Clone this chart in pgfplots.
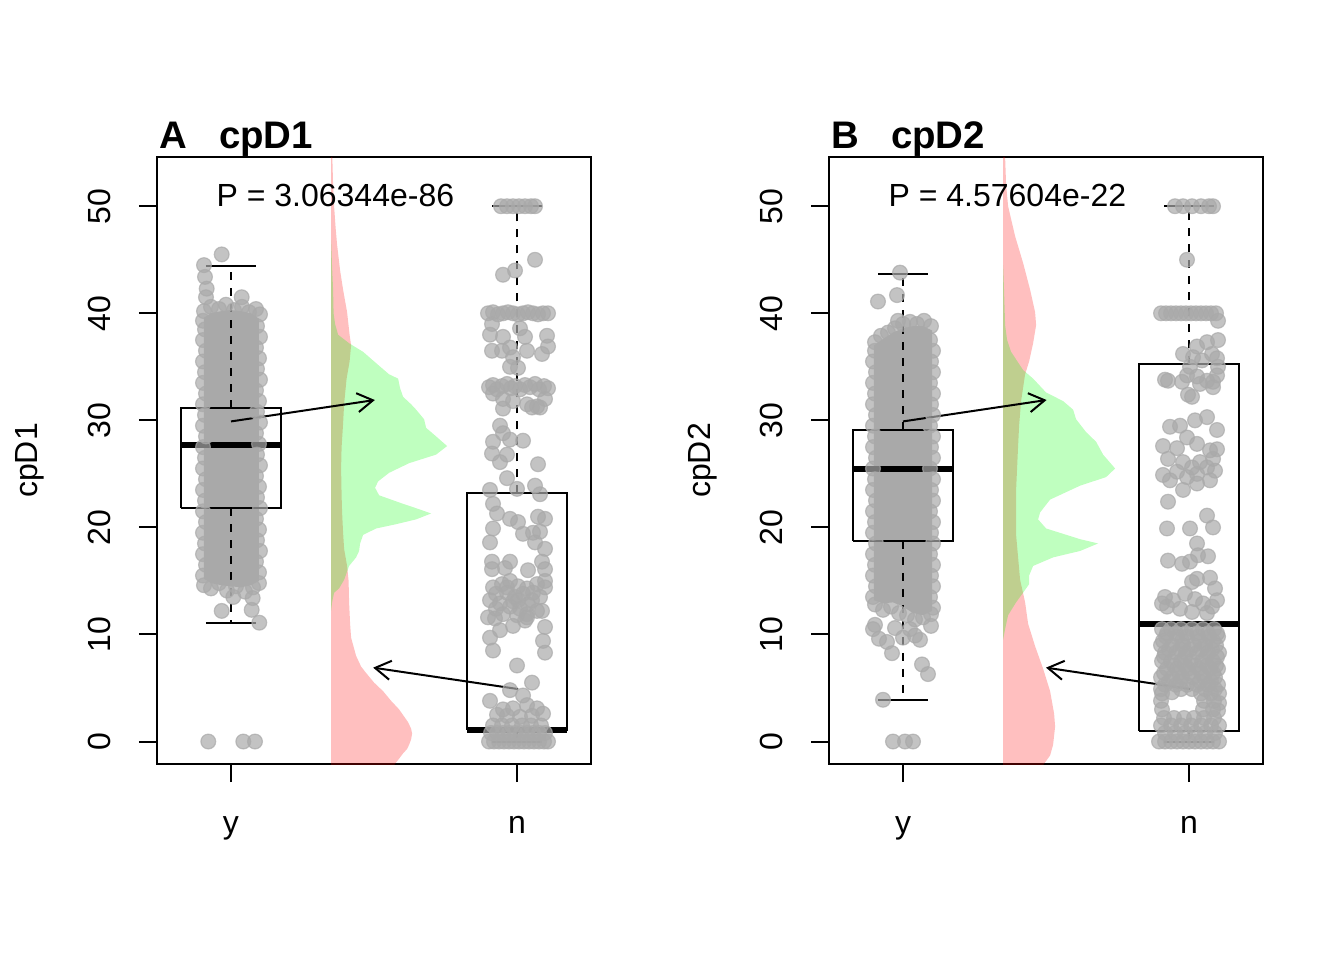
\documentclass[border=0pt]{standalone}
\usepackage{fontspec}
\setmainfont{Liberation Sans}
\usepackage{pgfplots}
\pgfplotsset{compat=1.18}
\usetikzlibrary{arrows.meta}
\definecolor{ptgrey}{RGB}{169,169,169}
\pgfplotsset{
  panel/.style={
    anchor=south west,
    width=217pt, height=303.5pt, scale only axis,
    xmin=0.7413, xmax=2.2587, ymin=-2.1, ymax=54.6,
    xtick={1,2}, xticklabels={y,n},
    ytick={0,10,20,30,40,50},
    xtick pos=left, ytick pos=left,
    tick align=outside, major tick length=9pt,
    axis line style={line width=1pt},
    tick style={line width=1pt, black},
    tick label style={font=\fontsize{16}{19}\selectfont, inner sep=0pt},
    yticklabel style={rotate=90, anchor=base},
    xticklabel style={anchor=base},
    yticklabel shift=14.25pt,
    xticklabel shift=25.5pt,
    /pgf/number format/assume math mode=true,
    every axis title/.style={at={(0,1)}, anchor=base west, inner sep=0pt, xshift=1pt, yshift=4pt, font=\fontsize{19.2}{23}\selectfont\bfseries},
    every axis y label/.style={at={(-0.2742,0.5)}, rotate=90, anchor=base, inner sep=0pt, font=\fontsize{16}{19}\selectfont},
  },
  pts/.style={only marks, mark=*, mark size=3.7pt,
    mark options={draw=ptgrey, fill=ptgrey, fill opacity=0.7, draw opacity=0.7, line width=0.6pt}},
  box/.style={black, line width=1pt, line join=miter, mark=none},
  whisk/.style={black, line width=1pt, dash pattern=on 4pt off 4pt, mark=none},
  arr/.style={black, line width=1pt, mark=none, -{Straight Barb[length=7.8pt, width=9.5pt]}},
}
\begin{document}
\begin{tikzpicture}
\path[use as bounding box] (0pt,0pt) rectangle (672pt,480pt);
% ================= Panel A =================
\begin{axis}[panel, at={(78.5pt,98pt)}, title={A\hspace{0.834em}cpD1}, ylabel={cpD1}]
% dense cloud of group y
\addplot[fill=ptgrey, draw=none, mark=none] table[x expr=1+\thisrow{dx}/286, y=v, row sep=\\] {
dx v\\ -27 15.2\\ -27 39.6\\ -20 40.0\\ -10 40.2\\ 0 40.3\\ 10 40.2\\ 20 40.0\\ 28 39.5\\ 28 15.0\\ 20 14.6\\ 10 14.4\\ 0 14.5\\ -10 14.6\\ -20 14.8\\
};
\addplot[pts] table[x expr=1+\thisrow{dx}/286, y=v, row sep=\\] {
dx v\\
-9.3 45.5\\ -27 44.5\\ -26 43.4\\ -24.3 42.3\\ -25 41.5\\ 10.7 41.5\\
-9.3 12.2\\ 20.7 12.3\\ 28.3 11.1\\ 21.7 13.4\\ 2.3 13.5\\ -22.7 0\\ 12.3 0\\ 24 0\\
-27 40.2\\ -20 40.6\\ -12 40.4\\ -5 40.8\\ 3 40.3\\ 11 40.6\\ 18 40.1\\ 25 40.4\\ 29 39.9\\
-27 14.6\\ -20 14.3\\ -12 14.8\\ -4 14.1\\ 5 14.5\\ 14 14.0\\ 22 14.4\\ 28 14.8\\
-28 15.5\\ -25 16.5\\ -28 17.5\\ -26 18.5\\ -28 19.5\\ -25 20.5\\ -28 21.5\\ -26 22.5\\ -28 23.5\\ -25 24.5\\ -28 25.5\\ -26 26.5\\ -28 27.5\\ -25 28.5\\ -28 29.5\\ -26 30.5\\ -28 31.5\\ -25 32.5\\ -28 33.5\\ -26 34.5\\ -28 35.5\\ -25 36.5\\ -28 37.5\\ -26 38.5\\ -28 39.3\\
28 15.8\\ 25 16.8\\ 29 17.8\\ 26 18.8\\ 28 19.8\\ 25 20.8\\ 29 21.8\\ 26 22.8\\ 28 23.8\\ 25 24.8\\ 29 25.8\\ 26 26.8\\ 28 27.8\\ 25 28.8\\ 29 29.8\\ 26 30.8\\ 28 31.8\\ 25 32.8\\ 29 33.8\\ 26 34.8\\ 28 35.8\\ 25 36.8\\ 29 37.8\\ 26 38.8\\
};
% group n
\addplot[pts] table[x expr=2+\thisrow{dx}/286, y=v, row sep=\\] {
dx v\\
-16 50\\ -10 50\\ -4 50\\ 2 50\\ 8 50\\ 14 50\\ 18 50\\
18 45.0\\ -2 44.0\\ -14 43.6\\
-29 40\\ -24 40.1\\ -19 39.9\\ -14 40\\ -9 40.1\\ -4 40\\ 1 39.9\\ 6 40\\ 11 40.1\\ 16 40\\ 21 39.9\\ 26 40\\ 31 40\\
-25 39.0\\ -27 38.0\\ -14 37.8\\ 3 38.6\\ 8 37.8\\ 30 37.9\\ 31 36.9\\ 25 36.2\\ -25 36.5\\ -15 36.5\\ -7 36.8\\ 10 36.5\\ -4 35.9\\ -7 35.0\\ 1 34.9\\
-28 33.1\\ -24 33.3\\ -20 32.9\\ -15 33.2\\ -10 33.4\\ -6 33.0\\ -2 33.2\\ 3 32.9\\ 8 33.3\\ 13 33.1\\ 18 33.4\\ 22 32.9\\ 27 33.2\\ 31 33.0\\
-24 32.5\\ -14 32.0\\ -4 31.8\\ 10 31.5\\ 20 31.3\\ 28 32.0\\
-14 31.1\\ 15 31.2\\ 23 31.2\\
-17 29.5\\ -14 28.8\\ -24 28.0\\ -7 28.2\\ 6 28.1\\
-25 26.9\\ -10 26.8\\ -17 26.1\\ 21 25.9\\
-10 24.6\\ -27 23.5\\ 0 23.6\\ 18 23.9\\ 23 23.1\\ -24 22.2\\ -20 21.3\\ -7 20.8\\ 1 20.5\\ 21 21.0\\ 28 20.8\\ -24 19.9\\ 6 19.4\\ 16 19.5\\ 23 19.6\\ 18 18.6\\ -27 18.6\\ 28 18.0\\ -25 16.8\\ -7 16.8\\ 25 16.8\\ -25 16.1\\ -12 16.2\\ 11 16.0\\ 28 16.1\\
-24 14.4\\ -15 14.7\\ -7 15.0\\ 1 14.5\\ 10 14.3\\ 20 14.7\\ 28 15.0\\ -21 13.8\\ -10 13.9\\ -2 13.5\\ 6 13.8\\ 15 13.2\\ 23 13.5\\ -27 13.2\\ -17 12.9\\ -7 12.6\\ 3 12.4\\ 11 12.8\\ 20 12.2\\ -14 11.9\\ 0 11.8\\ 8 11.3\\ 25 12.2\\ 28 14.4\\ -10 14.4\\ 1 13.2\\ 10 11.9\\ -21 12.4\\ -4 13.1\\ 16 13.9\\
-29 11.6\\ -22 11.5\\ -17 10.4\\ -27 9.7\\ -4 10.8\\ 10 11.6\\ 28 10.7\\ 26 9.4\\ -24 8.5\\ 28 8.3\\ 0 7.1\\ 15 5.5\\ -7 4.8\\ 6 4.3\\ -27 3.8\\ -14 3.0\\ -4 3.1\\ 10 3.4\\ 20 3.1\\ -20 2.5\\ -10 2.4\\ 26 2.6\\ 3 2.3\\ 15 2.4\\
-24 1.5\\ -15 1.5\\ -5 1.5\\ 5 1.5\\ 14 1.5\\ 24 1.5\\
-26 0.8\\ -20 0.8\\ -14 0.8\\ -8 0.8\\ -2 0.8\\ 4 0.8\\ 10 0.8\\ 16 0.8\\ 22 0.8\\ 28 0.8\\
-28 0\\ -23 0\\ -18 0\\ -13 0\\ -8 0\\ -3 0\\ 2 0\\ 7 0\\ 12 0\\ 17 0\\ 22 0\\ 27 0\\ 31 0\\
};
% densities
\addplot[draw=none, fill=red, fill opacity=0.25, mark=none] table[x expr=1.35+\thisrow{d}/286, y=v, row sep=\\] {
v d\\ 54.6 0\\ 54.6 1.2\\ 52 2\\ 50 3\\ 48 4.5\\ 46.4 6\\ 44 9\\ 42.2 12\\ 40.1 16\\ 38 18.5\\ 37 20\\ 35.5 18.5\\ 33.9 15.5\\ 31.5 13\\ 29.7 12\\ 27.5 10.5\\ 25.5 10\\ 23 10.5\\ 21.4 11\\ 19.5 12\\ 18 13\\ 16.4 16\\ 15 17.5\\ 13 18\\ 11 19\\ 9.7 20\\ 8 25\\ 7 30\\ 6.4 35\\ 5.5 43\\ 4.7 52\\ 3.8 60\\ 3 68\\ 2.2 74\\ 1.8 77\\ 1.2 80\\ 0.75 81\\ 0.2 80\\ -0.3 78\\ -0.7 76\\ -1.1 72\\ -1.6 68\\ -2.2 63\\ -2.2 0\\
};
\addplot[draw=none, fill=green, fill opacity=0.25, mark=none] table[x expr=1.35+\thisrow{d}/286, y=v, row sep=\\] {
v d\\ 46.8 0\\ 44.3 1\\ 42.2 2\\ 40 2.5\\ 39 4\\ 38 7\\ 37.2 18\\ 36.4 32\\ 35.1 48\\ 34.3 58\\ 33.9 67\\ 33 69\\ 32.2 72\\ 31.5 80\\ 31 85\\ 30.1 93\\ 29.3 95\\ 28.5 105\\ 27.6 116\\ 26.8 105\\ 26 78\\ 25.1 58\\ 24.3 47\\ 23.7 44\\ 23 48\\ 22.2 72\\ 21.7 88\\ 21.3 100\\ 20.75 85\\ 20.3 65\\ 19.9 45\\ 19.3 32\\ 18.5 29\\ 17.8 28\\ 17.2 25\\ 16.4 18\\ 15.1 13\\ 14.3 8\\ 13.9 3\\ 13 1\\ 12.2 0\\
};
% boxplots
\addplot[box] coordinates {(0.8252,21.8) (1.1748,21.8) (1.1748,31.2) (0.8252,31.2) (0.8252,21.8)};
\addplot[black, line width=3pt, mark=none] coordinates {(0.8252,27.7) (1.1748,27.7)};
\addplot[whisk] coordinates {(1,31.2) (1,44.4)};
\addplot[whisk] coordinates {(1,21.8) (1,11.1)};
\addplot[box] coordinates {(0.9126,44.4) (1.0874,44.4)};
\addplot[box] coordinates {(0.9126,11.1) (1.0874,11.1)};
\addplot[box] coordinates {(1.8252,1.04) (2.1748,1.04) (2.1748,23.17) (1.8252,23.17) (1.8252,1.04)};
\addplot[black, line width=3pt, mark=none] coordinates {(1.8252,1.04) (2.1748,1.04)};
\addplot[whisk] coordinates {(2,23.17) (2,50)};
\addplot[whisk] coordinates {(2,1.04) (2,0)};
\addplot[box] coordinates {(1.9126,50) (2.0874,50)};
\addplot[box] coordinates {(1.9126,0) (2.0874,0)};
% arrows
\addplot[arr] coordinates {(1,29.9) (1.503,31.9)};
\addplot[arr] coordinates {(2.004,4.9) (1.497,6.9)};
\node[font=\fontsize{16}{19}\selectfont, anchor=base, inner sep=0pt] at (axis cs:1.365,50) {P = 3.06344e-86};
\end{axis}
% ================= Panel B =================
\begin{axis}[panel, at={(414.5pt,98pt)}, title={B\hspace{0.834em}cpD2}, ylabel={cpD2}]
\addplot[fill=ptgrey, draw=none, mark=none] table[x expr=1+\thisrow{dx}/286, y=v, row sep=\\] {
dx v\\ -29 13.2\\ -29 37.0\\ -20 37.6\\ -10 38.2\\ 0 38.6\\ 10 38.8\\ 20 38.8\\ 29 38.4\\ 29 12.2\\ 20 11.8\\ 10 12.0\\ 0 12.6\\ -10 13.0\\ -20 12.9\\
};
\addplot[pts] table[x expr=1+\thisrow{dx}/286, y=v, row sep=\\] {
dx v\\
-3 43.8\\ -25 41.1\\ -6 41.7\\ -5 39.3\\
-30 10.5\\ -16 9.3\\ -11 8.25\\ 0 9.7\\ 7 10.5\\ 17 9.5\\ 19 7.2\\ 25 6.3\\ -20 3.9\\ -10 0\\ 2 0\\ 10 0\\ -28 10.9\\ -24 9.6\\ 28 10.8\\ -8 10.6\\ 12 9.9\\
-28 37.3\\ -22 37.9\\ -15 38.2\\ -8 38.6\\ 0 39.0\\ 7 39.2\\ 14 39.0\\ 21 39.3\\ 28 38.8\\
-28 12.8\\ -20 12.3\\ -12 12.6\\ -4 12.0\\ 4 11.8\\ 12 11.4\\ 20 11.6\\ 28 11.9\\
-30 13.5\\ -27 14.5\\ -30 15.5\\ -28 16.5\\ -30 17.5\\ -27 18.5\\ -30 19.5\\ -28 20.5\\ -30 21.5\\ -27 22.5\\ -30 23.5\\ -28 24.5\\ -30 25.5\\ -27 26.5\\ -30 27.5\\ -28 28.5\\ -30 29.5\\ -27 30.5\\ -30 31.5\\ -28 32.5\\ -30 33.5\\ -27 34.5\\ -30 35.5\\ -28 36.5\\
30 12.5\\ 27 13.5\\ 30 14.5\\ 28 15.5\\ 30 16.5\\ 27 17.5\\ 30 18.5\\ 28 19.5\\ 30 20.5\\ 27 21.5\\ 30 22.5\\ 28 23.5\\ 30 24.5\\ 27 25.5\\ 30 26.5\\ 28 27.5\\ 30 28.5\\ 27 29.5\\ 30 30.5\\ 28 31.5\\ 30 32.5\\ 27 33.5\\ 30 34.5\\ 28 35.5\\ 30 36.5\\ 27 37.5\\
};
\addplot[pts] table[x expr=2+\thisrow{dx}/286, y=v, row sep=\\] {
dx v\\
-14 50\\ -6 50\\ 3 50\\ 12 50\\ 20 50\\ 24 50\\
-2 45.0\\
-28 40\\ -23 40\\ -18 40\\ -13 40\\ -8 40\\ -3 40\\ 2 40\\ 7 40\\ 12 40\\ 17 40\\ 22 40\\ 27 40\\ 29 39.3\\
29 37.5\\ 18 37.3\\ 8 36.9\\ -6 36.2\\ 23 36.2\\ 28 35.8\\ 13 35.6\\ 4 35.9\\ 1 35.0\\ 29 35.0\\
-21 33.7\\ -7 33.6\\ 8 34.1\\ 18 33.7\\ 24 33.6\\ 28 34.2\\ -2 34.2\\ 11 33.4\\ 24 33.1\\ -24 33.8\\ 3 32.2\\ -1 32.4\\
-19 29.4\\ -9 29.5\\ 6 30.0\\ 18 30.3\\ 28 29.1\\ -2 28.4\\ -26 27.6\\ -12 27.4\\ 8 27.8\\ 21 27.2\\ 28 27.3\\ -21 26.4\\ -6 26.1\\ 11 26.1\\ 24 26.4\\
-26 24.9\\ -12 25.2\\ -2 24.7\\ 8 25.0\\ 18 25.6\\ 26 25.3\\ -6 23.5\\ 8 24.1\\ 21 24.4\\ -19 24.4\\ 3 25.6\\
-21 22.4\\ -22 19.9\\ 1 19.9\\ 18 21.1\\ 24 20.0\\ 8 18.5\\ 9 17.4\\ 19 17.3\\ -21 16.9\\ -7 16.6\\ 1 16.8\\ 8 15.2\\ 21 15.3\\ 3 14.9\\ 26 14.3\\
-24 13.5\\ -16 13.2\\ -4 13.8\\ 6 13.3\\ 14 12.9\\ 23 12.6\\ -22 12.6\\ -9 12.4\\ 3 12.1\\ 18 12.0\\ 28 13.2\\ -27 12.9\\
-27 10.5\\ -18 10.5\\ -8 10.5\\ 3 10.5\\ 14 10.5\\ 25 10.5\\
-22 10.1\\ -13 10.1\\ -3 10.1\\ 8 10.1\\ 19 10.1\\ 28 10.1\\
-23 9.8\\ -12 9.8\\ -2 9.8\\ 9 9.8\\ 20 9.8\\ 29 9.8\\
-26 9.4\\ -7 9.4\\ 11 9.4\\ 24 9.4\\
-28 9.0\\ -17 9.0\\ -6 9.0\\ 5 9.0\\ 16 9.0\\ 27 9.0\\
-20 8.6\\ -9 8.6\\ 1 8.6\\ 12 8.6\\ 23 8.6\\
-24 8.3\\ -13 8.3\\ -3 8.3\\ 8 8.3\\ 19 8.3\\ 30 8.3\\
-25 7.9\\ -4 7.9\\ 17 7.9\\ 28 7.9\\
-27 7.5\\ -18 7.5\\ -8 7.5\\ 2 7.5\\ 13 7.5\\ 24 7.5\\
-15 7.1\\ -4 7.1\\ 6 7.1\\ 18 7.1\\ 27 7.1\\
-22 6.8\\ -12 6.8\\ -1 6.8\\ 10 6.8\\ 21 6.8\\ 29 6.8\\
-25 6.4\\ -10 6.4\\ 0 6.4\\ 12 6.4\\ 24 6.4\\
-28 6.0\\ -17 6.0\\ -7 6.0\\ 4 6.0\\ 15 6.0\\ 26 6.0\\
-20 5.6\\ -9 5.6\\ 11 5.6\\ 22 5.6\\
-24 5.3\\ -13 5.3\\ -2 5.3\\ 8 5.3\\ 19 5.3\\ 29 5.3\\
-28 4.9\\ -8 4.9\\ 3 4.9\\ 16 4.9\\ 26 4.9\\
-27 4.5\\ -17 4.6\\ 12 4.5\\ 22 4.5\\ 30 4.5\\
-28 3.8\\ 15 3.8\\ 25 3.8\\ 30 3.6\\
-27 3.0\\ 14 3.0\\ 24 3.0\\ 29 2.9\\
-25 2.2\\ -15 2.2\\ -5 2.2\\ 5 2.2\\ 15 2.2\\ 25 2.2\\
-28 1.5\\ -18 1.5\\ -8 1.5\\ 2 1.5\\ 12 1.5\\ 22 1.5\\ 30 1.5\\
-24 0.8\\ -14 0.8\\ -4 0.8\\ 6 0.8\\ 16 0.8\\ 26 0.8\\
-30 0\\ -24 0\\ -18 0\\ -12 0\\ -6 0\\ 0 0\\ 6 0\\ 12 0\\ 18 0\\ 24 0\\ 30 0\\
};
\addplot[draw=none, fill=red, fill opacity=0.25, mark=none] table[x expr=1.35+\thisrow{d}/286, y=v, row sep=\\] {
v d\\ 54.6 0\\ 54.6 2\\ 52 3\\ 50 5\\ 47.2 12\\ 44.7 20\\ 42.2 27\\ 40.1 32\\ 38.9 33\\ 37.2 30\\ 35.5 26\\ 34.3 22\\ 31.8 18\\ 29.5 16\\ 27.6 15\\ 23.5 13\\ 19.3 13\\ 15.1 17\\ 13 22\\ 11 25\\ 8.9 32\\ 6.8 40\\ 4.7 47\\ 2.6 51\\ 1.4 52\\ -0.3 50\\ -1.3 47\\ -2.2 40\\ -2.2 0\\
};
\addplot[draw=none, fill=green, fill opacity=0.25, mark=none] table[x expr=1.35+\thisrow{d}/286, y=v, row sep=\\] {
v d\\ 44.5 0\\ 42 1\\ 38.9 2\\ 37.5 4\\ 36.4 8\\ 34.7 20\\ 33.9 30\\ 32.6 43\\ 31.8 60\\ 31 70\\ 30.1 73\\ 28.9 83\\ 28 93\\ 26.8 100\\ 25.5 112\\ 24.7 103\\ 23.9 77\\ 22.6 47\\ 21.4 37\\ 20.75 35\\ 19.9 43\\ 18.9 77\\ 18.5 95\\ 17.8 77\\ 17.2 50\\ 16.4 30\\ 15.5 26\\ 14.7 26\\ 13.9 20\\ 13 13\\ 11.8 5\\ 10.5 2\\ 9.5 0\\
};
\addplot[box] coordinates {(0.8252,18.75) (1.1748,18.75) (1.1748,29.1) (0.8252,29.1) (0.8252,18.75)};
\addplot[black, line width=3pt, mark=none] coordinates {(0.8252,25.5) (1.1748,25.5)};
\addplot[whisk] coordinates {(1,29.1) (1,43.7)};
\addplot[whisk] coordinates {(1,18.75) (1,3.9)};
\addplot[box] coordinates {(0.9126,43.7) (1.0874,43.7)};
\addplot[box] coordinates {(0.9126,3.9) (1.0874,3.9)};
\addplot[box] coordinates {(1.8252,0.96) (2.1748,0.96) (2.1748,35.25) (1.8252,35.25) (1.8252,0.96)};
\addplot[black, line width=3pt, mark=none] coordinates {(1.8252,10.96) (2.1748,10.96)};
\addplot[whisk] coordinates {(2,35.25) (2,50)};
\addplot[whisk] coordinates {(2,0.96) (2,0)};
\addplot[box] coordinates {(1.9126,50) (2.0874,50)};
\addplot[box] coordinates {(1.9126,0) (2.0874,0)};
\addplot[arr] coordinates {(1,29.9) (1.502,31.9)};
\addplot[arr] coordinates {(2.004,4.9) (1.5,6.9)};
\node[font=\fontsize{16}{19}\selectfont, anchor=base, inner sep=0pt] at (axis cs:1.365,50) {P = 4.57604e-22};
\end{axis}
\end{tikzpicture}
\end{document}
